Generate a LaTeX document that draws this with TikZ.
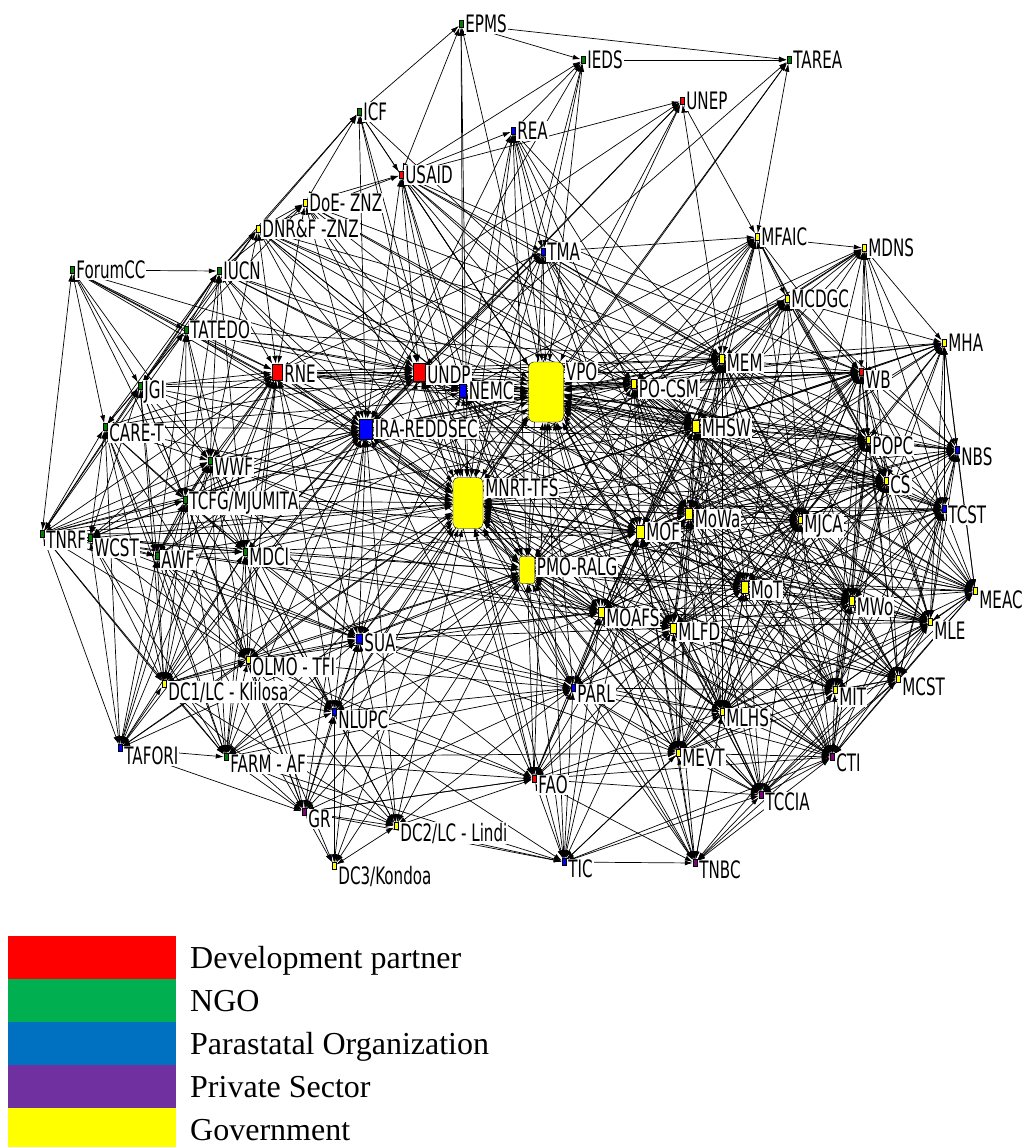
\documentclass[tikz,border=0pt]{standalone}
\usepackage{fontspec}
\usetikzlibrary{arrows.meta,backgrounds}

\newfontfamily\lblfont[FakeStretch=0.63]{DejaVu Sans}
\newfontfamily\legfont{Liberation Serif}

\definecolor{devred}{RGB}{255,0,0}
\definecolor{ngogreen}{RGB}{0,128,0}
\definecolor{parablue}{RGB}{0,0,255}
\definecolor{privpurple}{RGB}{128,0,128}
\definecolor{govyellow}{RGB}{255,255,0}
\definecolor{legred}{RGB}{255,0,0}
\definecolor{leggreen}{RGB}{0,176,80}
\definecolor{legblue}{RGB}{0,112,192}
\definecolor{legpurple}{RGB}{112,48,160}
\definecolor{legyellow}{RGB}{255,255,0}

\tikzset{
  actbox/.style={draw=black, line width=0.4pt, inner sep=0pt, minimum width=4pt, minimum height=7pt},
  dev/.style={fill=devred},
  ngo/.style={fill=ngogreen},
  para/.style={fill=parablue},
  priv/.style={fill=privpurple},
  gov/.style={fill=govyellow},
  lbl/.style={anchor=west, fill=white, inner sep=1pt, font=\lblfont\fontsize{24}{26}\selectfont},
  link/.style={line width=0.7pt, arrows={Latex[length=8pt,width=5pt]-Latex[length=8pt,width=5pt]}},
  legtext/.style={anchor=base west, inner sep=0pt, font=\legfont\fontsize{32}{36}\selectfont}
}

% name, x, y, kind, label shift, text
\newcommand{\actor}[6]{%
  \node[actbox,#4] (#1) at (#2,#3) {};
  \node[lbl] (#1-l) at ([xshift=1pt,yshift=#5pt]#1.east) {#6};
}

\begin{document}
\begin{tikzpicture}[x=1pt, y=-1pt]
\useasboundingbox (0,0) rectangle (1031,1147);

% actors
\actor{epms}{461}{24}{ngo}{0}{EPMS}
\actor{ieds}{583}{60}{ngo}{0}{IEDS}
\actor{tarea}{789}{60}{ngo}{0}{TAREA}
\actor{unep}{682}{101}{dev}{0}{UNEP}
\actor{icf}{359}{112}{ngo}{0}{ICF}
\actor{rea}{513}{131}{para}{0}{REA}
\actor{usaid}{401}{175}{dev}{0}{USAID}
\actor{doe}{305}{203}{gov}{0}{DoE- ZNZ}
\actor{dnrf}{258}{229}{gov}{0}{DNR\&F -ZNZ}
\actor{mfaic}{757}{237}{gov}{0}{MFAIC}
\actor{mdns}{864}{248}{gov}{0}{MDNS}
\actor{tma}{543}{252}{para}{0}{TMA}
\actor{forumcc}{72}{270}{ngo}{0}{ForumCC}
\actor{iucn}{219}{271}{ngo}{0}{IUCN}
\actor{mcdgc}{787}{299}{gov}{0}{MCDGC}
\actor{tatedo}{186}{330}{ngo}{0}{TATEDO}
\actor{mha}{944}{343}{gov}{0}{MHA}
\actor{rne}{277}{372}{dev,minimum width=10pt,minimum height=16pt}{-2}{RNE}
\actor{undp}{419}{372}{dev,minimum width=12pt,minimum height=18pt}{-3}{UNDP}
\actor{vpo}{546}{392}{gov,minimum width=35pt,minimum height=60pt,rounded corners=5pt}{20}{VPO}
\actor{nemc}{463}{391}{para,minimum width=7pt,minimum height=13pt}{0}{NEMC}
\actor{pocsm}{634}{384}{gov,minimum width=5pt,minimum height=9pt}{-5}{PO-CSM}
\actor{mem}{722}{359}{gov,minimum width=5pt,minimum height=9pt}{-4}{MEM}
\actor{wb}{861}{372}{dev}{-8}{WB}
\actor{ira}{366}{429}{para,minimum width=13pt,minimum height=20pt}{0}{IRA-REDDSEC}
\actor{caret}{105}{427}{ngo}{-6}{CARE-T}
\actor{jgi}{140}{386}{ngo}{-6}{JGI}
\actor{mhsw}{696}{426}{gov,minimum width=7pt,minimum height=12pt}{-2}{MHSW}
\actor{wwf}{210}{461}{ngo}{-6}{WWF}
\actor{popc}{868}{440}{gov}{-6}{POPC}
\actor{nbs}{957}{450}{para}{-7}{NBS}
\actor{mnrt}{468}{503}{gov,minimum width=30pt,minimum height=51pt,rounded corners=5pt}{15}{MNRT-TFS}
\actor{cs}{886}{481}{gov}{-4}{CS}
\actor{tcfg}{185}{500}{ngo}{-3}{TCFG/MJUMITA}
\actor{tcst}{944}{509}{para}{-6}{TCST}
\actor{tnrf}{42}{534}{ngo}{-6}{TNRF}
\actor{wcst}{90}{538}{ngo}{-10}{WCST}
\actor{awf}{157}{556}{ngo}{-4}{AWF}
\actor{mdci}{245}{552}{ngo}{-5}{MDCI}
\actor{mowa}{689}{514}{gov,minimum width=7pt,minimum height=11pt}{-5}{MoWa}
\actor{mof}{640}{532}{gov,minimum width=8pt,minimum height=13pt}{0}{MOF}
\actor{mjca}{800}{520}{gov}{-6}{MJCA}
\actor{pmo}{527}{570}{gov,minimum width=15pt,minimum height=27pt,rounded corners=2pt}{3}{PMO-RALG}
\actor{mot}{745}{587}{gov,minimum width=7pt,minimum height=12pt}{-3}{MoT}
\actor{meac}{975}{591}{gov}{-9}{MEAC}
\actor{mwo}{852}{601}{gov,minimum width=5pt,minimum height=9pt}{-6}{MWo}
\actor{moafs}{601}{612}{gov,minimum width=6pt,minimum height=10pt}{-6}{MOAFS}
\actor{mlfd}{673}{628}{gov,minimum width=6pt,minimum height=10pt}{-4}{MLFD}
\actor{mle}{930}{622}{gov}{-9}{MLE}
\actor{sua}{359}{639}{para,minimum width=6pt,minimum height=9pt}{-4}{SUA}
\actor{olmo}{248}{660}{gov}{-7}{OLMO - TFI}
\actor{dcone}{164}{684}{gov}{-8}{DC1/LC - Klilosa}
\actor{mcst}{898}{679}{gov}{-8}{MCST}
\actor{mit}{835}{690}{gov}{-7}{MIT}
\actor{parl}{573}{688}{para}{-6}{PARL}
\actor{nlupc}{334}{712}{para}{-8}{NLUPC}
\actor{mlhs}{722}{712}{gov}{-6}{MLHS}
\actor{tafori}{120}{748}{para}{-8}{TAFORI}
\actor{farm}{226}{757}{ngo}{-7}{FARM - AF}
\actor{mevt}{678}{753}{gov}{-5}{MEVT}
\actor{cti}{832}{757}{priv}{-6}{CTI}
\actor{fao}{534}{779}{dev}{-6}{FAO}
\actor{tccia}{761}{795}{priv}{-7}{TCCIA}
\actor{gr}{304}{812}{priv}{-7}{GR}
\actor{dctwo}{396}{826}{gov}{-7}{DC2/LC - Lindi}
\actor{tic}{564}{862}{para}{-7}{TIC}
\actor{tnbc}{695}{863}{priv}{-7}{TNBC}
\actor{dcthree}{334}{866}{gov}{-10}{DC3/Kondoa}

% ties
\begin{scope}[on background layer]
\foreach \s/\tl in {%
vpo/{epms,ieds,tarea,unep,icf,rea,usaid,doe,dnrf,mfaic,mdns,tma,iucn,mcdgc,tatedo,mha,rne,undp,nemc,pocsm,mem,wb,ira,mhsw,popc,nbs,mnrt,cs,tcst,mowa,mof,mjca,pmo,mot,meac,mwo,moafs,mlfd,mle,sua,mcst,mit,parl,mlhs,mevt,cti,fao,tccia,tic,tnbc,wwf,tcfg,caret,jgi,mdci,olmo,nlupc},%
mnrt/{epms,ieds,tarea,unep,icf,rea,usaid,doe,dnrf,mfaic,mdns,tma,forumcc,iucn,mcdgc,tatedo,mha,rne,undp,nemc,pocsm,mem,wb,ira,caret,jgi,mhsw,wwf,popc,nbs,cs,tcfg,tcst,tnrf,wcst,awf,mdci,mowa,mof,mjca,pmo,mot,meac,mwo,moafs,mlfd,mle,sua,olmo,dcone,mcst,mit,parl,nlupc,mlhs,tafori,farm,mevt,cti,fao,tccia,gr,dctwo,tic,tnbc,dcthree},%
pmo/{rea,usaid,tma,mfaic,mcdgc,rne,undp,nemc,pocsm,mem,wb,ira,mhsw,popc,cs,tcst,mowa,mof,mjca,mot,meac,mwo,moafs,mlfd,mle,sua,olmo,dcone,mcst,mit,parl,nlupc,mlhs,farm,mevt,cti,fao,tccia,gr,dctwo,tic,tnbc,dcthree,mdci,tcfg,wwf},%
ira/{icf,rea,usaid,doe,dnrf,tma,forumcc,iucn,tatedo,rne,undp,nemc,caret,jgi,wwf,tcfg,tnrf,wcst,awf,mdci,sua,olmo,dcone,nlupc,tafori,farm,gr,dctwo,mem,mhsw,mof,pocsm,mowa,mjca,parl,fao,mlhs,popc,cs,wb},%
undp/{icf,usaid,doe,dnrf,tma,iucn,tatedo,rne,nemc,pocsm,mem,wb,mhsw,popc,cs,mof,mowa,mjca,sua,wwf,tcfg,mdci,awf,jgi,caret,forumcc,mot,mlfd,moafs,fao,parl},%
rne/{doe,dnrf,tma,iucn,tatedo,jgi,caret,wwf,tcfg,tnrf,wcst,awf,mdci,sua,olmo,nemc,mem,mof,mhsw,pocsm,dcone,farm,tafori,nlupc,forumcc},%
epms/{ieds,tarea,icf,usaid,nemc},%
ieds/{tarea,rea,usaid,tma,ira},%
tarea/{mfaic,ira},%
unep/{usaid,undp,mfaic,ira,mem,rne},%
icf/{usaid,doe,dnrf,iucn,mhsw},%
rea/{usaid,tma,mhsw,mem,mof,mowa,nemc},%
usaid/{doe,dnrf,tma,mhsw,mof,mem,nemc,pocsm,mowa,wb},%
doe/{dnrf,iucn,tatedo,mhsw,pocsm,nemc,mem},%
dnrf/{iucn,tatedo,wwf,pocsm,mhsw,jgi,mem,mof,nemc},%
tma/{mem,mhsw,mof,nemc,pocsm,mowa,wb,popc,mfaic},%
mfaic/{mdns,mcdgc,mem,pocsm,mhsw,wb,popc,mof,mowa,mjca,cs,nemc},%
mdns/{mha,mcdgc,wb,popc,mem,mhsw,mowa,cs,nbs,tcst,pocsm,mjca},%
forumcc/{tnrf,tatedo,jgi,caret,iucn,wwf,tcfg},%
iucn/{tatedo,jgi,caret,wwf,tcfg,mhsw,nemc,mdci,tnrf},%
mcdgc/{mem,pocsm,mhsw,wb,popc,cs,mof,mowa,mjca,mha,nbs,mwo,mot},%
tatedo/{jgi,caret,wwf,tcfg,tnrf,mem,mdci,awf,nemc},%
mha/{wb,popc,nbs,cs,tcst,mem,mhsw,mjca,mowa,mof,meac,mwo,mle,pocsm},%
nemc/{pocsm,mem,mhsw,mof,mowa,sua,wb,popc,moafs,mlfd},%
pocsm/{mem,mhsw,wb,popc,cs,mof,mowa,mjca,mot,mwo,moafs,mlfd,mle,mcst,mit,mlhs,meac,nbs,tcst},%
mem/{mhsw,wb,popc,cs,mof,mowa,mjca,mot,mwo,moafs,mlfd,mle,nbs,tcst,meac,mcst,mit,mlhs,mevt,cti},%
wb/{popc,cs,nbs,tcst,mhsw,mof,mowa,mjca,mot,mwo,mle,meac,moafs,mlfd,mcst,mit,mlhs},%
caret/{jgi,tnrf,wwf,tcfg,awf,wcst,mdci,dcone,tafori,olmo,farm},%
jgi/{tnrf,wwf,tcfg,awf,wcst,mdci,dcone,olmo},%
mhsw/{popc,cs,nbs,tcst,mof,mowa,mjca,mot,mwo,moafs,mlfd,mle,meac,mcst,mit,mlhs,mevt,cti,parl,tccia},%
wwf/{tcfg,tnrf,wcst,awf,mdci,sua,olmo,dcone,nlupc,farm,tafori,mof,moafs},%
popc/{cs,nbs,tcst,mof,mowa,mjca,mot,mwo,mle,meac,moafs,mlfd,mcst,mit,mlhs,mevt,cti},%
nbs/{cs,tcst,mjca,mot,mwo,mle,meac,mcst,mit,mowa,mof},%
cs/{tcst,mof,mowa,mjca,mot,mwo,mle,meac,moafs,mlfd,mcst,mit,mlhs,mevt,cti},%
tcfg/{tnrf,wcst,awf,mdci,sua,olmo,dcone,nlupc,farm,tafori,gr,moafs,mof},%
tcst/{mjca,mot,mwo,mle,meac,mcst,mit,mowa,mof,mlhs,cti,mlfd},%
tnrf/{wcst,awf,mdci,sua,dcone,tafori,farm,olmo,mof,moafs,mot,mlfd,pocsm,mhsw},%
wcst/{awf,mdci,dcone,tafori,farm,olmo,sua},%
awf/{mdci,sua,olmo,dcone,tafori,farm,nlupc,gr},%
mdci/{sua,olmo,dcone,nlupc,farm,tafori,gr,dctwo,moafs,mof,parl},%
mowa/{mof,mjca,mot,mwo,moafs,mlfd,mle,meac,mcst,mit,mlhs,mevt,cti,parl,tccia,fao},%
mof/{mjca,mot,mwo,moafs,mlfd,mle,meac,mcst,mit,mlhs,mevt,cti,parl,tccia,fao,sua,tic,tnbc},%
mjca/{mot,mwo,moafs,mlfd,mle,meac,mcst,mit,mlhs,mevt,cti,parl,tccia},%
mot/{mwo,moafs,mlfd,mle,meac,mcst,mit,mlhs,mevt,cti,parl,tccia,tnbc,fao},%
meac/{mwo,mle,mcst,mit,cti,mlhs,tccia},%
mwo/{moafs,mlfd,mle,mcst,mit,mlhs,mevt,cti,parl,tccia},%
moafs/{mlfd,mle,mcst,mit,mlhs,mevt,cti,parl,tccia,fao,sua,tic,tnbc,olmo,nlupc},%
mlfd/{mle,mcst,mit,mlhs,mevt,cti,parl,tccia,fao,tic,tnbc,sua},%
mle/{mcst,mit,mlhs,cti,mevt,tccia},%
sua/{olmo,dcone,nlupc,farm,tafori,gr,dctwo,dcthree,parl,fao,mlhs,mevt,moafs},%
olmo/{dcone,nlupc,farm,tafori,gr,dctwo,dcthree,fao,parl},%
dcone/{tafori,farm,gr,nlupc,dctwo},%
mcst/{mit,mlhs,mevt,cti,tccia,tnbc},%
mit/{mlhs,mevt,cti,tccia,tnbc,parl},%
parl/{mlhs,mevt,cti,fao,tccia,tic,tnbc,dctwo,gr},%
nlupc/{farm,gr,dctwo,dcthree,fao,tic,parl},%
mlhs/{mevt,cti,fao,tccia,tic,tnbc},%
tafori/{farm,gr},%
farm/{gr,dctwo,fao,mevt,parl,tic},%
mevt/{cti,fao,tccia,tic,tnbc},%
cti/{tccia,tnbc,fao,tic},%
fao/{tccia,tic,tnbc,gr,dctwo},%
tccia/{tnbc,tic},%
gr/{dctwo,dcthree,fao,tic},%
dctwo/{dcthree,tic},%
tic/{tnbc}%
}
  \foreach \t in \tl
    \draw[link] (\s) -- (\t);
\end{scope}

% legend
\foreach \c/\txt [count=\i from 0] in {legred/Development partner,leggreen/NGO,legblue/Parastatal Organization,legpurple/Private Sector,legyellow/Government}{
  \fill[\c] (8,{936+43*\i}) rectangle (176,{979+43*\i});
  \node[legtext] (leg\i) at (190,{968+43*\i}) {\txt};
}
\end{tikzpicture}
\end{document}
